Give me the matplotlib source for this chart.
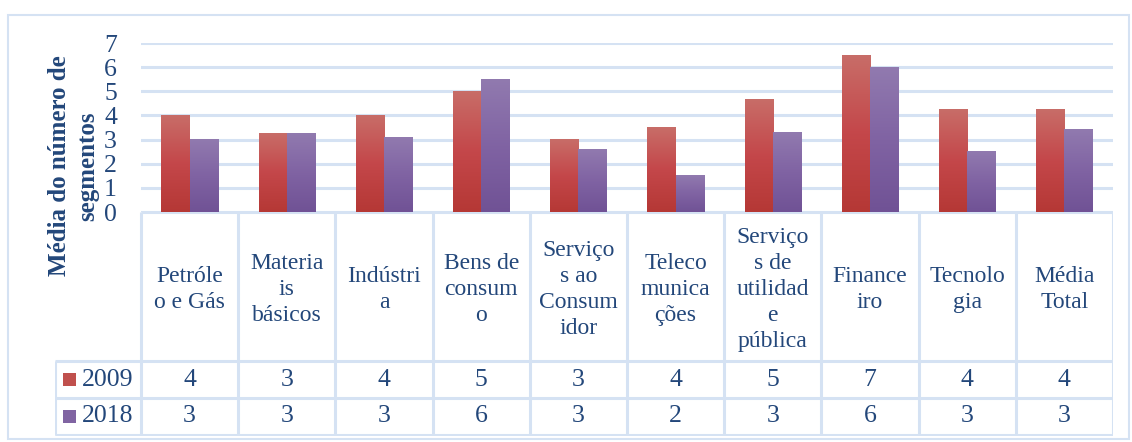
import numpy as np
import matplotlib.pyplot as plt
from matplotlib.colors import LinearSegmentedColormap
from matplotlib.patches import Rectangle

# Dados
categorias = ["Petróle\no e Gás", "Materia\nis\nbásicos", "Indústri\na", "Bens de\nconsum\no",
              "Serviço\ns ao\nConsum\nidor", "Teleco\nmunica\nções", "Serviço\ns de\nutilidad\ne\npública",
              "Finance\niro", "Tecnolo\ngia", "Média\nTotal"]
valores_2009 = [4.0, 3.25, 4.0, 5.0, 3.0, 3.5, 4.65, 6.5, 4.25, 4.25]
valores_2018 = [3.0, 3.25, 3.1, 5.5, 2.6, 1.5, 3.3, 6.0, 2.5, 3.4]
tabela_2009 = ["4", "3", "4", "5", "3", "4", "5", "7", "4", "4"]
tabela_2018 = ["3", "3", "3", "6", "3", "2", "3", "6", "3", "3"]
series = ["2009", "2018"]

COR_TEXTO = "#23477A"
COR_LINHA = "#D5E2F3"
FONTE = "Liberation Serif"

cmap_vermelho = LinearSegmentedColormap.from_list("verm", ["#B53835", "#C4474A", "#C86D68"])
cmap_roxo = LinearSegmentedColormap.from_list("roxo", ["#705295", "#8063A3", "#917AAF"])
cor_legenda = ["#C0504D", "#8064A2"]

W, H = 1132, 442
fig = plt.figure(figsize=(W / 100, H / 100), dpi=100)

# borda externa do gráfico
fig.patches.append(Rectangle((8 / W, 1 - 439 / H), 1121 / W, 424 / H, transform=fig.transFigure,
                             fill=False, edgecolor=COR_LINHA, linewidth=1.5))

# Eixo principal (barras)
x0, x1 = 141, 1113
ax = fig.add_axes([x0 / W, 1 - 212 / H, (x1 - x0) / W, (212 - 43) / H])
larg = 0.29
gradiente = np.linspace(0, 1, 256).reshape(-1, 1)
x = np.arange(len(categorias))
b1 = ax.bar(x - larg / 2, valores_2009, larg, color="none", zorder=3)
b2 = ax.bar(x + larg / 2, valores_2018, larg, color="none", zorder=3)
for barras, cm in [(b1, cmap_vermelho), (b2, cmap_roxo)]:
    for b in barras:
        bx, by = b.get_x(), b.get_y()
        ax.imshow(gradiente, extent=[bx, bx + b.get_width(), by, by + b.get_height()],
                  origin="lower", cmap=cm, aspect="auto", zorder=3)

ax.set_xlim(-0.5, len(categorias) - 0.5)
ax.set_ylim(0, 7)
ax.set_yticks(range(0, 8))
ax.yaxis.grid(True, color=COR_LINHA, linewidth=2.2, zorder=0)
ax.set_axisbelow(True)
ax.set_xticks([])
for s in ["top", "right", "left", "bottom"]:
    ax.spines[s].set_visible(False)
ax.tick_params(axis="y", length=0, pad=22, labelsize=18.5, labelcolor=COR_TEXTO)
for t in ax.get_yticklabels():
    t.set_fontfamily(FONTE)
    t.set_horizontalalignment("center")

# Título do eixo y
fig.text(60 / W, 1 - 166 / H, "Média do número de", rotation=90, ha="center", va="center",
         fontsize=18, fontweight="bold", color=COR_TEXTO, family=FONTE)
fig.text(88 / W, 1 - 166 / H, "segmentos", rotation=90, ha="center", va="center",
         fontsize=18, fontweight="bold", color=COR_TEXTO, family=FONTE)

# Tabela de dados
tx0 = 55
ncol = len(categorias)
colw = (x1 - x0) / ncol
tax = fig.add_axes([tx0 / W, 1 - 436 / H, (x1 - tx0) / W, (436 - 212) / H])
tax.set_xlim(tx0, x1)
tax.set_ylim(436, 212)
tax.axis("off")
y_cab, y_r1, y_r2, y_fim = 212, 361, 398, 435

kw = dict(color=COR_LINHA, linewidth=2.2, solid_capstyle="butt")
tax.plot([x0, x1], [y_cab, y_cab], **kw)
tax.plot([tx0, x1], [y_r1, y_r1], **kw)
tax.plot([tx0, x1], [y_r2, y_r2], **kw)
tax.plot([tx0, x1], [y_fim, y_fim], **kw)
tax.plot([tx0, tx0], [y_r1, y_fim], **kw)
for i in range(ncol + 1):
    xc = x0 + i * colw
    tax.plot([xc, xc], [y_cab, y_fim], **kw)

for i, cat in enumerate(categorias):
    xc = x0 + (i + 0.5) * colw
    tax.text(xc, (y_cab + y_r1) / 2 + 3, cat, ha="center", va="center", fontsize=17,
             color=COR_TEXTO, family=FONTE, linespacing=1.3)
    tax.text(xc, (y_r1 + y_r2) / 2, tabela_2009[i], ha="center", va="center", fontsize=18.5,
             color=COR_TEXTO, family=FONTE)
    tax.text(xc, (y_r2 + y_fim) / 2, tabela_2018[i], ha="center", va="center", fontsize=18.5,
             color=COR_TEXTO, family=FONTE)

for j, (nome, ya, yb) in enumerate([(series[0], y_r1, y_r2), (series[1], y_r2, y_fim)]):
    ym = (ya + yb) / 2
    tax.add_patch(Rectangle((63, ym - 6.5), 13, 13, facecolor=cor_legenda[j], edgecolor="none"))
    tax.text(82, ym, nome, ha="left", va="center", fontsize=18.5, color=COR_TEXTO, family=FONTE)

fig.savefig("out.png", dpi=100)
